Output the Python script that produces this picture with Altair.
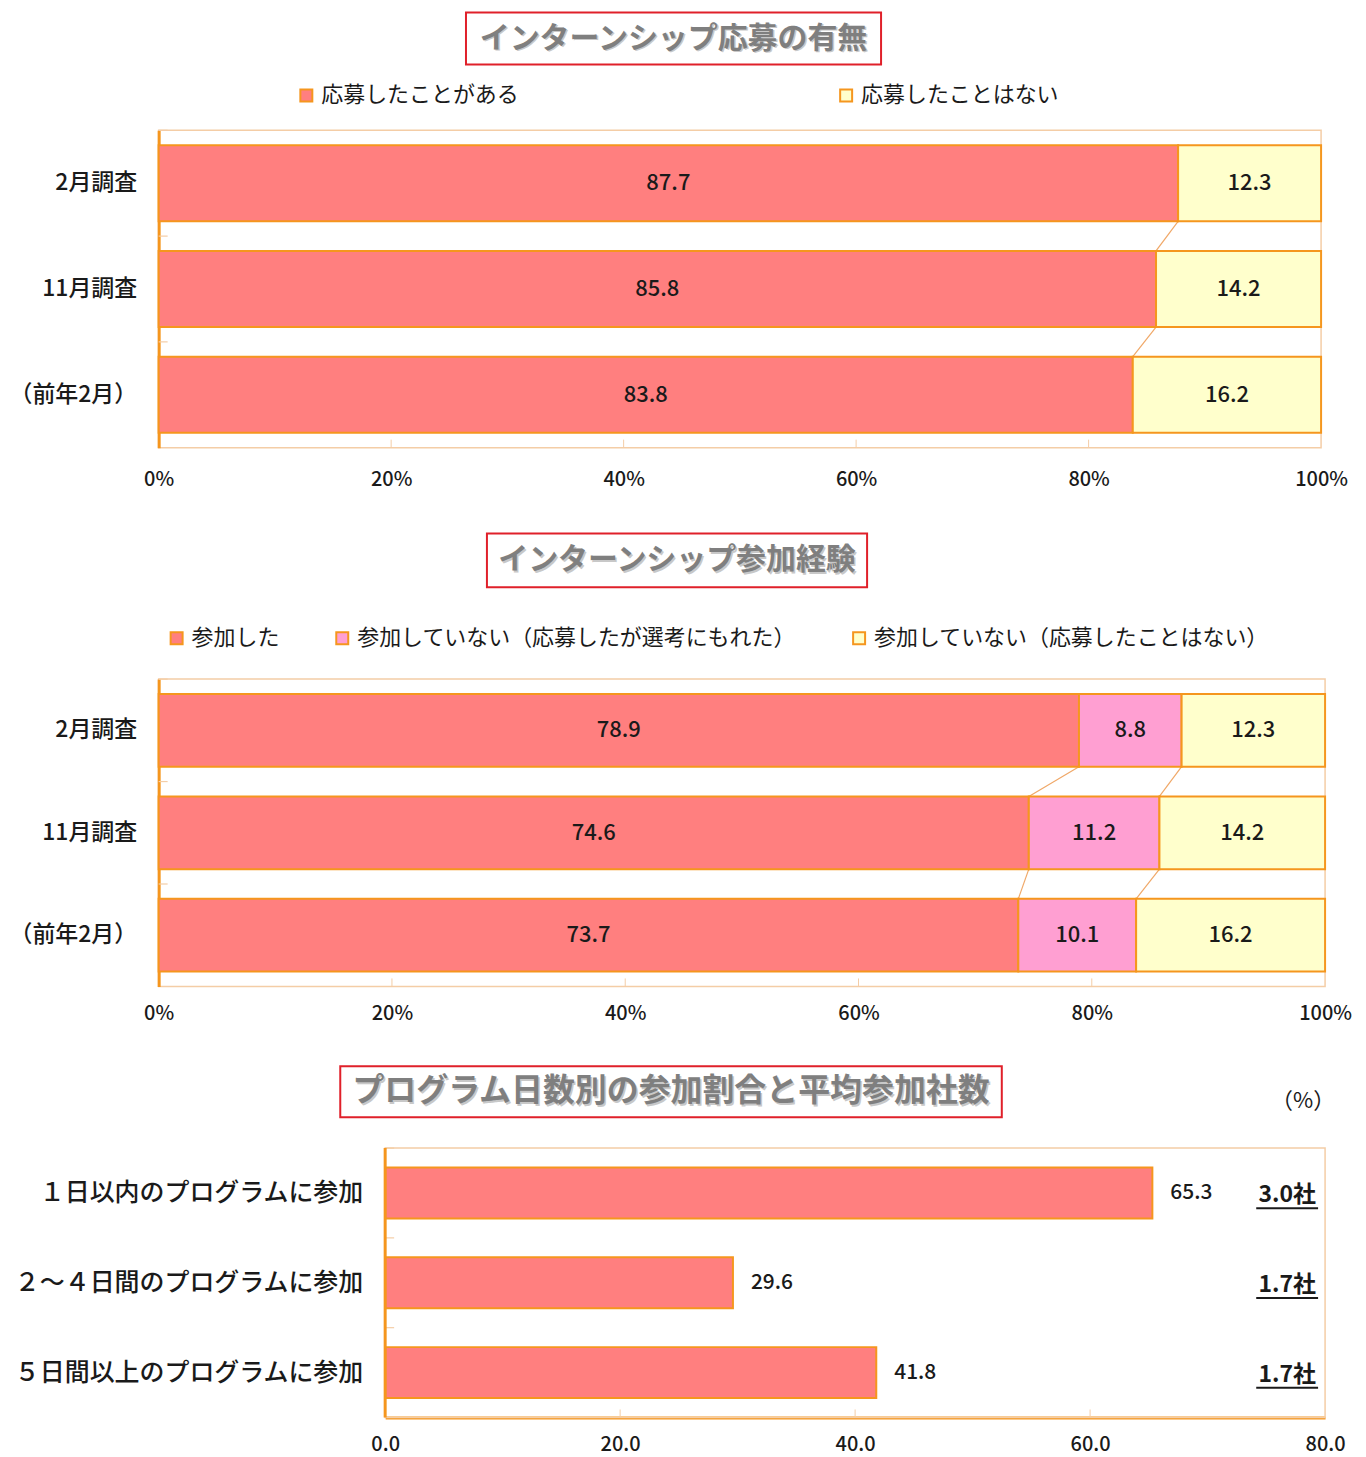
import altair as alt
import pandas as pd

FONT = "Noto Sans CJK JP"

# ---------------- data ----------------
titles = ["インターンシップ応募の有無", "インターンシップ参加経験", "プログラム日数別の参加割合と平均参加社数"]

surveys = ["2月調査", "11月調査", "（前年2月）"]

series1 = ["応募したことがある", "応募したことはない"]
applied = [87.7, 85.8, 83.8]
not_applied = [12.3, 14.2, 16.2]

series2 = ["参加した", "参加していない（応募したが選考にもれた）", "参加していない（応募したことはない）"]
participated = [78.9, 74.6, 73.7]
rejected = [8.8, 11.2, 10.1]
never_applied = [12.3, 14.2, 16.2]

programs = ["１日以内のプログラムに参加", "２～４日間のプログラムに参加", "５日間以上のプログラムに参加"]
share = [65.3, 29.6, 41.8]
companies = ["3.0社", "1.7社", "1.7社"]

pct_ticks = [0, 20, 40, 60, 80, 100]
share_ticks = [0, 20, 40, 60, 80]
unit_label = "（%）"

# ---------------- style ----------------
SALMON = "#FF7F7F"
PINK = "#FF9FD2"
CREAM = "#FFFFCC"
ORANGE = "#F5961E"
PEACH = "#F4CDA6"
LINE = "#F0A868"
RED = "#E0202A"
GREY = "#7F7F7F"
INK = "#1A1A1A"

O = 158  # page x of the plot origin
W1, H1 = 1323 - O, 318
W2, H2 = 1327 - O, 308
W3, H3 = 1327 - O, 270
X0_3 = 385 - O


def title_layers(title, box, center, size):
    tdf = pd.DataFrame({"t": [title]})
    rect = alt.Chart(tdf).mark_rect(fill="white", stroke=RED, strokeWidth=2).encode(
        x=alt.value(box[0] - O), x2=alt.value(box[1] - O), y=alt.value(box[2]), y2=alt.value(box[3])
    )
    shadow = alt.Chart(tdf).mark_text(fontSize=size, fontWeight="bold", color="#C8C8C8",
                                      dx=1.5, dy=1.5).encode(
        x=alt.value(center[0] - O), y=alt.value(center[1]), text="t:N")
    txt = alt.Chart(tdf).mark_text(fontSize=size, fontWeight="bold", color=GREY).encode(
        x=alt.value(center[0] - O), y=alt.value(center[1]), text="t:N")
    return [rect, shadow, txt]


def stacked_panel(series, columns, colors, W, H, pad, lp_y, lp_x, legend_x, legend_y,
                  col_pad, title, box, center, tsize):
    rows = []
    for i, cat in enumerate(surveys):
        start = 0.0
        for s, vals in zip(series, columns):
            v = vals[i]
            rows.append(dict(cat=cat, series=s, start=start, end=start + v, value=v))
            start += v
    df = pd.DataFrame(rows)

    # connector (series) lines between bar boundaries
    conn = []
    for k in range(len(series) - 1):
        cums = [sum(columns[j][i] for j in range(k + 1)) for i in range(len(surveys))]
        for i in range(len(surveys) - 1):
            conn.append(dict(cat=surveys[i], nxt=surveys[i + 1], x=cums[i], x2=cums[i + 1]))
    cdf = pd.DataFrame(conn)

    xscale = alt.Scale(domain=[pct_ticks[0], pct_ticks[-1]], nice=False)
    xaxis = alt.Axis(values=pct_ticks, labelExpr="datum.value + '%'", title=None, grid=False,
                     ticks=False, domain=False, labelFontSize=20, labelPadding=lp_x,
                     labelColor=INK, labelFlush=False, labelFontWeight=500)
    yscale = alt.Scale(paddingInner=pad, paddingOuter=pad / 2)
    yaxis = alt.Axis(title=None, labelFontSize=23, labelColor=INK, labelPadding=lp_y,
                     ticks=False, domainColor=ORANGE, domainWidth=3, labelFontWeight=500)

    def xe(f):
        return alt.X(f, scale=xscale, axis=xaxis)

    def ye(bp=None):
        if bp is None:
            return alt.Y("cat:N", sort=surveys, scale=yscale, axis=yaxis)
        return alt.Y("cat:N", sort=surveys, scale=yscale, axis=yaxis, bandPosition=bp)

    lines = alt.Chart(cdf).mark_rule(color=LINE, strokeWidth=1.2).encode(
        x=xe("x:Q"), x2="x2:Q", y=ye(1), y2=alt.Y2("nxt:N", bandPosition=0))

    tdf = pd.DataFrame({"tick": pct_ticks[1:-1]})
    xticks = alt.Chart(tdf).mark_rule(color=PEACH, strokeWidth=1).encode(
        x=xe("tick:Q"), y=alt.value(H - 8), y2=alt.value(H))

    step = H / len(surveys)
    ydf = pd.DataFrame({"cat": surveys})
    yticks = alt.Chart(ydf).mark_rule(color=PEACH, strokeWidth=1.2,
                                      yOffset=-step * pad / 2).encode(
        x=alt.value(0), x2=alt.value(9), y=ye(0))

    bars = alt.Chart(df).mark_bar(stroke=ORANGE, strokeWidth=2).encode(
        x=xe("start:Q"), x2="end:Q", y=ye(),
        color=alt.Color("series:N", sort=series,
                        scale=alt.Scale(domain=series, range=colors),
                        legend=alt.Legend(orient="none", legendX=legend_x, legendY=legend_y,
                                          direction="horizontal", columns=len(series),
                                          columnPadding=col_pad, title=None,
                                          symbolType="square", symbolSize=144,
                                          symbolStrokeColor=ORANGE, symbolStrokeWidth=2,
                                          labelFontSize=22, labelColor=INK, labelOffset=4,
                                          labelLimit=800, padding=0)))

    labels = alt.Chart(df).transform_calculate(
        mid="(datum.start + datum.end) / 2").mark_text(
        fontSize=22, color=INK, fontWeight=500).encode(
        x=xe("mid:Q"), y=ye(), text=alt.Text("value:Q", format=".1f"))

    layers = [xticks, yticks, lines, bars, labels] + title_layers(title, box, center, tsize)
    return alt.layer(*layers).properties(width=W, height=H)


p1 = stacked_panel(series1, [applied, not_applied], [SALMON, CREAM], W1, H1, 0.28, 22, 22,
                   295 - O, -46, 316, titles[0], (466, 882, -118, -66), (674, -92), 30)
p2 = stacked_panel(series2, [participated, rejected, never_applied], [SALMON, PINK, CREAM],
                   W2, H2, 0.29, 22, 17, 165 - O, -52, 51, titles[1],
                   (487, 868, -146, -92), (677.5, -119), 30)

# ---------------- panel 3 ----------------
df3 = pd.DataFrame({"program": programs, "share": share, "companies": companies})
pad3 = 0.433
xscale3 = alt.Scale(domain=[share_ticks[0], share_ticks[-1]], nice=False, range=[X0_3, W3])
xaxis3 = alt.Axis(values=share_ticks, format=".1f", title=None, grid=False, ticks=False,
                  domainColor=ORANGE, domainWidth=3, labelFontSize=20, labelPadding=17,
                  labelColor=INK, labelFlush=False, labelFontWeight=500)
yscale3 = alt.Scale(paddingInner=pad3, paddingOuter=pad3 / 2)


def xe3(f):
    return alt.X(f, scale=xscale3, axis=xaxis3)


def ye3(bp=None):
    if bp is None:
        return alt.Y("program:N", sort=programs, scale=yscale3, axis=None)
    return alt.Y("program:N", sort=programs, scale=yscale3, axis=None, bandPosition=bp)


fdf = pd.DataFrame({"lo": [share_ticks[0]], "hi": [share_ticks[-1]]})
frame = alt.Chart(fdf).mark_rect(fillOpacity=0, stroke=PEACH, strokeWidth=1.5).encode(
    x=xe3("lo:Q"), x2="hi:Q", y=alt.value(0), y2=alt.value(H3))
left_line = alt.Chart(fdf).mark_rule(color=ORANGE, strokeWidth=3).encode(
    x=xe3("lo:Q"), y=alt.value(0), y2=alt.value(H3))

t3 = pd.DataFrame({"tick": share_ticks[1:-1]})
xticks3 = alt.Chart(t3).mark_rule(color=PEACH, strokeWidth=1).encode(
    x=xe3("tick:Q"), y=alt.value(H3 - 8), y2=alt.value(H3))

step3 = H3 / len(programs)
yticks3 = alt.Chart(df3).mark_rule(color=PEACH, strokeWidth=1.2,
                                   yOffset=-step3 * pad3 / 2).encode(
    x=alt.value(X0_3), x2=alt.value(X0_3 + 9), y=ye3(0))

bars3 = alt.Chart(df3).mark_bar(fill=SALMON, stroke=ORANGE, strokeWidth=2).encode(
    x=xe3("share:Q"), y=ye3())
vals3 = alt.Chart(df3).mark_text(align="left", dx=18, fontSize=21, color=INK,
                                 fontWeight=500).encode(
    x=xe3("share:Q"), y=ye3(), text=alt.Text("share:Q", format=".1f"))
cats3 = alt.Chart(df3).transform_calculate(zero=str(share_ticks[0])).mark_text(
    align="right", dx=-22, fontSize=25, color=INK, fontWeight=500).encode(
    x=xe3("zero:Q"), y=ye3(), text="program:N")
comp3 = alt.Chart(df3).transform_calculate(right=str(share_ticks[-1])).mark_text(
    align="center", dx=-38, dy=2, fontSize=23, fontWeight="bold", color=INK).encode(
    x=xe3("right:Q"), y=ye3(), text="companies:N")
under3 = alt.Chart(df3).mark_rule(color=INK, strokeWidth=2).encode(
    x=alt.value(W3 - 69), x2=alt.value(W3 - 7), y=ye3(0.8))
unit3 = alt.Chart(pd.DataFrame({"u": [unit_label]})).mark_text(
    fontSize=22, color=INK).encode(x=alt.value(1305 - O), y=alt.value(-47), text="u:N")

p3 = alt.layer(
    frame, xticks3, yticks3, bars3, left_line, vals3, cats3, comp3, under3, unit3,
    *title_layers(titles[2], (340, 1003, -82, -31), (671.5, -57), 32)
).properties(width=W3, height=H3, view=alt.ViewBackground(strokeOpacity=0))

chart = alt.vconcat(p1, p2, p3, spacing=41).resolve_scale(
    x="independent", y="independent", color="independent"
).properties(
    padding={"left": 0, "top": 1, "right": 5, "bottom": 5}
).configure(font=FONT).configure_view(stroke=PEACH, strokeWidth=1.5)

chart.save("out.html", embed_options={"renderer": "svg", "actions": False})
